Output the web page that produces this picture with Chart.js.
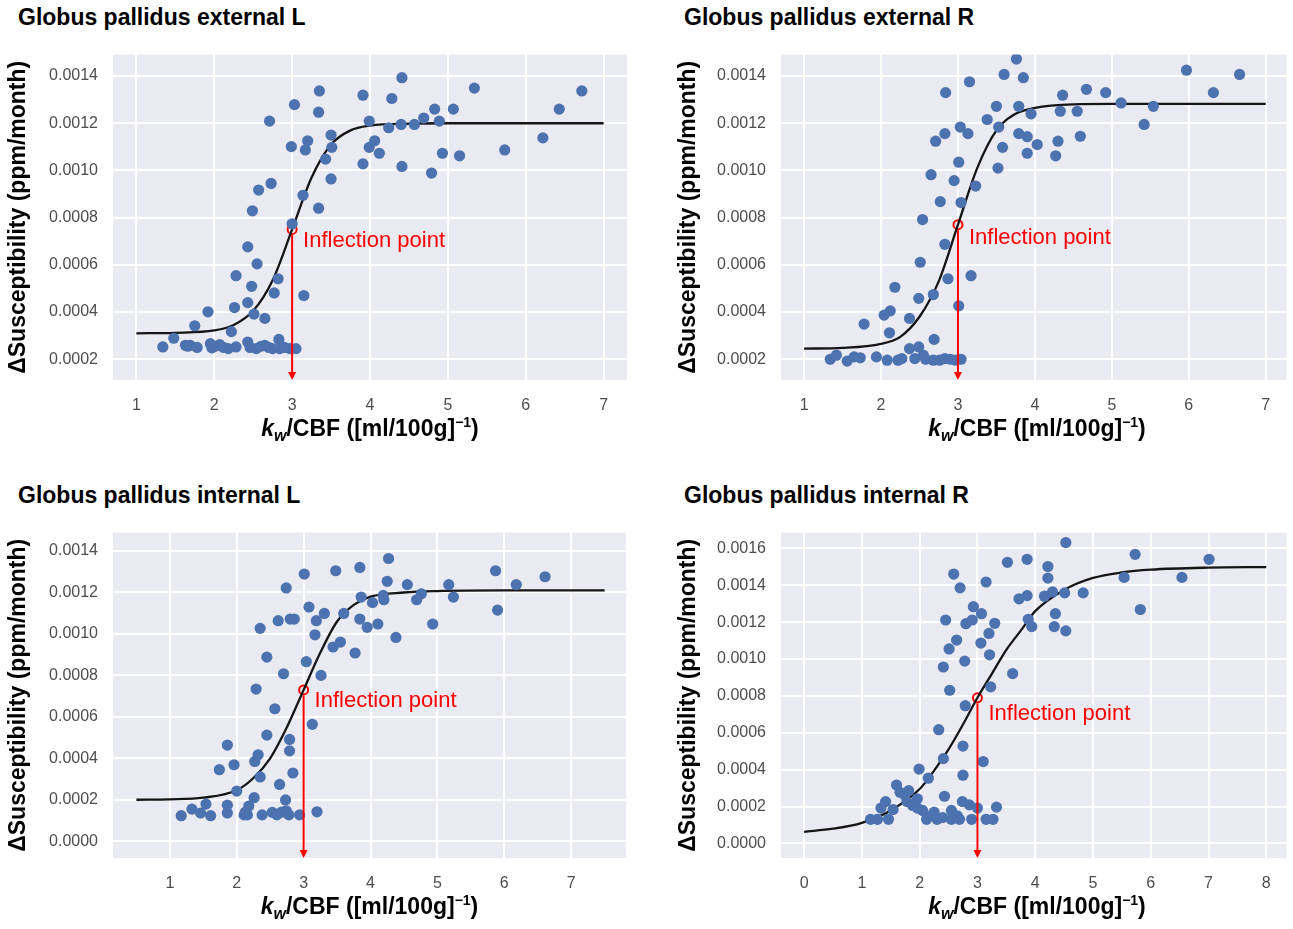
<!DOCTYPE html>
<html>
<head>
<meta charset="utf-8">
<script src="https://cdn.jsdelivr.net/npm/chart.js@4.4.1/dist/chart.umd.min.js"></script>
<style>
    body { margin: 0; background: #fff; width: 1293px; height: 929px; position: relative; overflow: hidden;
           font-family: "Liberation Sans", Arial, sans-serif; }
    canvas { position: absolute; }
    .title { position: absolute; font-weight: bold; font-size: 23px; line-height: 23px; color: #000; white-space: nowrap; }
    .xlab { position: absolute; font-weight: bold; font-size: 23px; line-height: 23px; color: #000;
            text-align: center; white-space: nowrap; }
    .xlab sub { font-size: 16px; line-height: 0; vertical-align: -5px; }
    .xlab sup { font-size: 14px; line-height: 0; vertical-align: 9px; }
</style>
</head>
<body>

<div class="title" style="left:18px; top:6px;">Globus pallidus external L</div>
<div class="title" style="left:684px; top:6px;">Globus pallidus external R</div>
<div class="title" style="left:18px; top:484px;">Globus pallidus internal L</div>
<div class="title" style="left:684px; top:484px;">Globus pallidus internal R</div>

<canvas id="c1" width="640" height="390" style="left:0px; top:30px;"></canvas>
<canvas id="c2" width="625" height="390" style="left:668px; top:30px;"></canvas>
<canvas id="c3" width="640" height="390" style="left:0px; top:508px;"></canvas>
<canvas id="c4" width="625" height="390" style="left:668px; top:508px;"></canvas>

<div class="xlab" style="left:113px; width:514px; top:417px;"><i>k<sub>w</sub></i>/CBF ([ml/100g]<sup>&minus;1</sup>)</div>
<div class="xlab" style="left:781px; width:512px; top:417px;"><i>k<sub>w</sub></i>/CBF ([ml/100g]<sup>&minus;1</sup>)</div>
<div class="xlab" style="left:113px; width:513px; top:895px;"><i>k<sub>w</sub></i>/CBF ([ml/100g]<sup>&minus;1</sup>)</div>
<div class="xlab" style="left:781px; width:512px; top:895px;"><i>k<sub>w</sub></i>/CBF ([ml/100g]<sup>&minus;1</sup>)</div>

<script>
// textos
var yTitle = 'ΔSusceptibility (ppm/month)';
var inflLabel = 'Inflection point';

// Globus pallidus external L - pontos
var gpeL_x = [1.34, 1.48, 1.63, 1.69, 1.78, 1.75, 1.92, 1.95, 1.97, 2.07,
              2.18, 2.22, 2.28, 2.26, 2.28, 2.43, 2.43, 2.48, 2.43, 2.55,
              2.49, 2.57, 2.73, 2.71, 2.51, 2.65, 2.54, 2.65, 2.75, 2.83,
              2.84, 2.77, 2.82, 2.97, 3.05, 3.00, 3.14, 3.15, 3.34, 2.99,
              3.03, 3.17, 3.20, 3.34, 3.35, 3.43, 3.50, 3.51, 3.50, 3.91,
              3.91, 3.99, 3.99, 4.06, 4.12, 4.28, 4.41, 4.24, 4.40, 4.41,
              4.57, 4.69, 4.83, 4.89, 4.79, 4.93, 5.07, 5.15, 5.34, 5.73,
              6.22, 6.43, 6.72, 1.66, 2.01, 2.12, 2.46, 2.60, 2.70, 2.90];
var gpeL_y = [0.000252, 0.000289, 0.000259, 0.000259, 0.000250, 0.000342, 0.000401, 0.000266, 0.000248, 0.000262,
              0.000245, 0.000317, 0.000252, 0.000419, 0.000554, 0.000273, 0.000440, 0.000509, 0.000676, 0.000604,
              0.000829, 0.000917, 0.000945, 0.001209, 0.000391, 0.000373, 0.000245, 0.000259, 0.000245, 0.000284,
              0.000245, 0.000481, 0.000541, 0.000245, 0.000245, 0.000774, 0.000895, 0.000470, 0.000840, 0.001101,
              0.001279, 0.001087, 0.001126, 0.001247, 0.001337, 0.001048, 0.001150, 0.001098, 0.000964, 0.001319,
              0.001028, 0.001209, 0.001098, 0.001126, 0.001073, 0.001305, 0.001393, 0.001181, 0.001195, 0.001017,
              0.001195, 0.001222, 0.001260, 0.001209, 0.000989, 0.001073, 0.001260, 0.001062, 0.001349, 0.001087,
              0.001138, 0.001260, 0.001337, 0.000255, 0.000255, 0.000250, 0.000250, 0.000255, 0.000250, 0.000250];
// curva ajustada
var gpeL_cx = [1, 1.5, 2, 2.25, 2.5, 2.75, 3, 3.25, 3.5, 3.75, 4, 4.5, 5, 6, 7];
var gpeL_cy = [0.00031, 0.000312, 0.000322, 0.000345, 0.000405, 0.000535, 0.00075, 0.00097,
               0.00111, 0.00117, 0.00119, 0.001198, 0.0012, 0.0012, 0.0012];
var gpeL_infl = [3, 0.00075];

// Globus pallidus external R
var gpeR_x = [1.34, 1.42, 1.56, 1.65, 1.73, 1.78, 1.94, 2.04, 2.12, 2.11,
              2.08, 2.18, 2.22, 2.27, 2.37, 2.37, 2.49, 2.44, 2.55, 2.49,
              2.51, 2.54, 2.65, 2.71, 2.83, 2.84, 2.77, 2.68, 2.69, 2.68,
              2.76, 2.83, 2.87, 2.83, 2.95, 3.01, 3.03, 3.13, 3.15, 3.04,
              3.23, 3.01, 3.17, 3.04, 2.97, 3.38, 3.50, 3.53, 3.58, 3.52,
              3.60, 3.76, 3.85, 3.79, 3.79, 3.90, 3.90, 3.95, 4.03, 4.27,
              4.30, 4.33, 4.36, 4.55, 4.59, 4.67, 4.92, 5.12, 5.42, 5.54,
              5.97, 6.32, 6.66, 2.58, 2.90];
var gpeR_y = [0.000200, 0.000217, 0.000192, 0.000210, 0.000206, 0.000349, 0.000210, 0.000387, 0.000405, 0.000312,
              0.000196, 0.000505, 0.000196, 0.000203, 0.000373, 0.000245, 0.000252, 0.000203, 0.000217, 0.000458,
              0.000611, 0.000792, 0.000982, 0.001124, 0.001156, 0.001330, 0.000868, 0.000474, 0.000284, 0.000196,
              0.000196, 0.000203, 0.000541, 0.000687, 0.000957, 0.001035, 0.001184, 0.001156, 0.001376, 0.000864,
              0.000934, 0.000426, 0.000554, 0.000200, 0.000196, 0.001216, 0.001272, 0.001184, 0.001098, 0.001010,
              0.001407, 0.001472, 0.001393, 0.001272, 0.001156, 0.001143, 0.001073, 0.001240, 0.001110, 0.001062,
              0.001124, 0.001251, 0.001319, 0.001251, 0.001145, 0.001344, 0.001330, 0.001286, 0.001195, 0.001272,
              0.001425, 0.001330, 0.001407, 0.000200, 0.000200];
var gpeR_cx = [1, 1.5, 2, 2.25, 2.5, 2.75, 3, 3.25, 3.5, 3.75, 4, 4.5, 5, 6, 7];
var gpeR_cy = [0.000245, 0.000248, 0.000265, 0.000295, 0.00038, 0.00053, 0.00077, 0.00101,
               0.00117, 0.00124, 0.001265, 0.00128, 0.001282, 0.001282, 0.001282];
var gpeR_infl = [3, 0.00077];

// Globus pallidus internal L
var gpiL_x = [1.17, 1.33, 1.46, 1.54, 1.61, 1.86, 1.86, 1.86, 1.74, 1.96,
              2.00, 2.11, 2.18, 2.26, 2.16, 2.27, 2.32, 2.35, 2.38, 2.29,
              2.45, 2.35, 2.45, 2.57, 2.53, 2.60, 2.64, 2.73, 2.74, 2.78,
              2.79, 2.79, 2.84, 2.70, 2.62, 2.74, 2.80, 2.86, 2.94, 3.01,
              3.04, 3.08, 3.13, 3.20, 3.17, 3.19, 3.26, 3.31, 3.44, 3.55,
              3.48, 3.60, 3.77, 3.84, 3.86, 3.84, 3.95, 4.03, 4.11, 4.20,
              4.25, 4.27, 4.19, 4.38, 4.55, 4.69, 4.76, 4.93, 5.17, 5.24,
              5.87, 5.90, 6.18, 6.61, 2.13, 2.67];
var gpiL_y = [0.000123, 0.000155, 0.000136, 0.000179, 0.000123, 0.000136, 0.000174, 0.000464, 0.000345, 0.000369,
              0.000242, 0.000127, 0.000170, 0.000210, 0.000127, 0.000385, 0.000417, 0.000310, 0.000127, 0.000734,
              0.000888, 0.001027, 0.000512, 0.000639, 0.000139, 0.000127, 0.000274, 0.000199, 0.000147, 0.000127,
              0.000491, 0.000436, 0.000329, 0.000808, 0.001064, 0.001222, 0.001072, 0.001072, 0.000127, 0.001289,
              0.000866, 0.001130, 0.000564, 0.000142, 0.000996, 0.001064, 0.000800, 0.001099, 0.000937, 0.000961,
              0.001305, 0.001099, 0.000908, 0.001321, 0.001178, 0.001072, 0.001032, 0.001151, 0.001048, 0.001165,
              0.001254, 0.001364, 0.001186, 0.000983, 0.001238, 0.001165, 0.001194, 0.001048, 0.001238, 0.001178,
              0.001305, 0.001115, 0.001238, 0.001276, 0.000140, 0.000140];
var gpiL_cx = [0.5, 1, 1.5, 2, 2.25, 2.5, 2.75, 3, 3.25, 3.5, 3.75, 4, 4.5, 5, 6, 7, 7.5];
var gpiL_cy = [0.0002, 0.000202, 0.00021, 0.000246, 0.000305, 0.0004, 0.00055, 0.00073, 0.00091,
               0.00106, 0.00114, 0.00118, 0.0012, 0.001207, 0.00121, 0.00121, 0.00121];
var gpiL_infl = [3, 0.00073];

// Globus pallidus internal R
var gpiR_x = [1.15, 1.27, 1.46, 1.33, 1.41, 1.54, 1.60, 1.66, 1.74, 1.81,
              1.78, 1.88, 1.96, 1.99, 1.96, 2.05, 2.15, 2.12, 2.25, 2.30,
              2.33, 2.41, 2.43, 2.41, 2.52, 2.51, 2.64, 2.45, 2.59, 2.70,
              2.55, 2.55, 2.69, 2.79, 2.75, 2.75, 2.78, 2.74, 2.86, 2.80,
              2.91, 2.93, 3.07, 3.06, 2.90, 3.00, 3.15, 3.27, 3.33, 3.10,
              3.23, 3.21, 3.20, 3.30, 3.15, 3.52, 3.61, 3.72, 3.86, 3.86,
              3.88, 3.94, 4.16, 4.22, 4.22, 4.30, 4.33, 4.35, 4.51, 4.53,
              4.53, 4.83, 5.54, 5.73, 5.82, 6.54, 7.01, 2.20, 2.40, 2.65];
var gpiR_y = [0.000131, 0.000131, 0.000131, 0.000192, 0.000227, 0.000184, 0.000317, 0.000277, 0.000263, 0.000286,
              0.000227, 0.000206, 0.000242, 0.000403, 0.000192, 0.000179, 0.000354, 0.000131, 0.000170, 0.000131,
              0.000617, 0.000460, 0.000256, 0.000957, 0.000831, 0.001055, 0.001103, 0.001212, 0.001461, 0.001386,
              0.000179, 0.000131, 0.000131, 0.000747, 0.000528, 0.000370, 0.000989, 0.000227, 0.000209, 0.001192,
              0.001212, 0.001284, 0.001246, 0.001087, 0.000131, 0.000192, 0.000131, 0.000131, 0.000197, 0.000444,
              0.000849, 0.001023, 0.001139, 0.001194, 0.001418, 0.001525, 0.000921, 0.001327, 0.001344, 0.001541,
              0.001216, 0.001176, 0.001341, 0.001502, 0.001439, 0.001364, 0.001176, 0.001246, 0.001359, 0.001632,
              0.001153, 0.001359, 0.001443, 0.001568, 0.001269, 0.001443, 0.001541, 0.000150, 0.000140, 0.000150];
var gpiR_cx = [0, 0.5, 1, 1.5, 2, 2.25, 2.5, 2.75, 3, 3.25, 3.5, 3.75, 4, 4.5, 5, 5.5, 6, 7, 8];
var gpiR_cy = [0.000063, 0.00008, 0.000112, 0.000179, 0.000295, 0.000395, 0.00051, 0.000645, 0.00079, 0.00092,
               0.00105, 0.001154, 0.00126, 0.001375, 0.00144, 0.00147, 0.001485, 0.001496, 0.001499];
var gpiR_infl = [3, 0.00079];

var FONT = '"Liberation Sans", Arial, sans-serif';
Chart.defaults.font.family = FONT;

function pares(xs, ys) {
    return xs.map(function (x, i) { return {x: x, y: ys[i]}; });
}

// fundo cinza, seta e texto do ponto de inflexao
var decor = {
    id: 'decor',
    beforeDraw: function (chart) {
        var a = chart.chartArea, ctx = chart.ctx;
        ctx.save();
        ctx.fillStyle = '#EAEAF2';
        ctx.fillRect(a.left, a.top, a.right - a.left, a.bottom - a.top);
        ctx.restore();
    },
    afterDatasetsDraw: function (chart, args, opts) {
        var a = chart.chartArea, ctx = chart.ctx;
        var px = chart.scales.x.getPixelForValue(opts.point[0]);
        var py = chart.scales.y.getPixelForValue(opts.point[1]);
        ctx.save();
        ctx.strokeStyle = '#FF0000';
        ctx.fillStyle = '#FF0000';
        ctx.lineWidth = 2;
        ctx.beginPath();
        ctx.moveTo(px, py + 5.5);
        ctx.lineTo(px, a.bottom - 6);
        ctx.stroke();
        ctx.beginPath();
        ctx.moveTo(px - 4, a.bottom - 8);
        ctx.lineTo(px + 4, a.bottom - 8);
        ctx.lineTo(px, a.bottom);
        ctx.closePath();
        ctx.fill();
        ctx.font = '22px ' + FONT;
        ctx.textBaseline = 'alphabetic';
        ctx.fillText(inflLabel, px + opts.dx, py + opts.dy);
        ctx.restore();
    }
};

function painel(id, xs, ys, cx, cy, infl, xr, yr, padRight, titlePad, dy) {
    return new Chart(document.getElementById(id), {
        type: 'scatter',
        data: {
            datasets: [{
                    data: pares(xs, ys),
                    backgroundColor: '#4C72B0',
                    borderWidth: 0,
                    pointRadius: 5.6,
                    pointHoverRadius: 5.6
                }, {
                    type: 'line',
                    data: pares(cx, cy),
                    borderColor: '#151515',
                    borderWidth: 2.3,
                    pointRadius: 0,
                    fill: false,
                    cubicInterpolationMode: 'monotone'
                }, {
                    data: [{x: infl[0], y: infl[1]}],
                    backgroundColor: 'rgba(0,0,0,0)',
                    borderColor: '#FF0000',
                    borderWidth: 2,
                    pointRadius: 4.5
                }]
        },
        options: {
            responsive: false,
            animation: false,
            events: [],
            layout: {padding: {left: 0, right: padRight, top: 20, bottom: 0}},
            plugins: {
                legend: {display: false},
                tooltip: {enabled: false},
                decor: {point: infl, dx: 11, dy: dy}
            },
            scales: {
                x: {
                    type: 'linear',
                    min: xr[0],
                    max: xr[1],
                    border: {display: false},
                    grid: {color: '#ffffff', lineWidth: 2, drawTicks: false},
                    ticks: {stepSize: 1, includeBounds: false, padding: 16, color: '#4d4d4d', font: {size: 16}},
                    afterFit: function (s) { s.height = 40; }
                },
                y: {
                    min: yr[0],
                    max: yr[1],
                    border: {display: false},
                    grid: {color: '#ffffff', lineWidth: 2, drawTicks: false},
                    ticks: {
                        stepSize: 0.0002, includeBounds: false, padding: 15, color: '#4d4d4d', font: {size: 16},
                        callback: function (v) { return (Math.abs(v) < 1e-9 ? 0 : v).toFixed(4); }
                    },
                    title: {
                        display: true, text: yTitle, color: '#000',
                        font: {size: 23, weight: 'bold'}, padding: {top: titlePad, bottom: 0}
                    },
                    afterFit: function (s) { s.width = 113; }
                }
            }
        },
        plugins: [decor]
    });
}

painel('c1', gpeL_x, gpeL_y, gpeL_cx, gpeL_cy, gpeL_infl, [0.7, 7.3], [0.000112, 0.001491], 13, 5, 18);
painel('c2', gpeR_x, gpeR_y, gpeR_cx, gpeR_cy, gpeR_infl, [0.7, 7.27], [0.000112, 0.001491], 0, 7, 19);
painel('c3', gpiL_x, gpiL_y, gpiL_cx, gpiL_cy, gpiL_infl, [0.15, 7.82], [-0.000081, 0.001489], 14, 5, 17);
painel('c4', gpiR_x, gpiR_y, gpiR_cx, gpiR_cy, gpiR_infl, [-0.4, 8.35], [-0.000079, 0.001686], 0, 7, 22);
</script>
</body>
</html>
